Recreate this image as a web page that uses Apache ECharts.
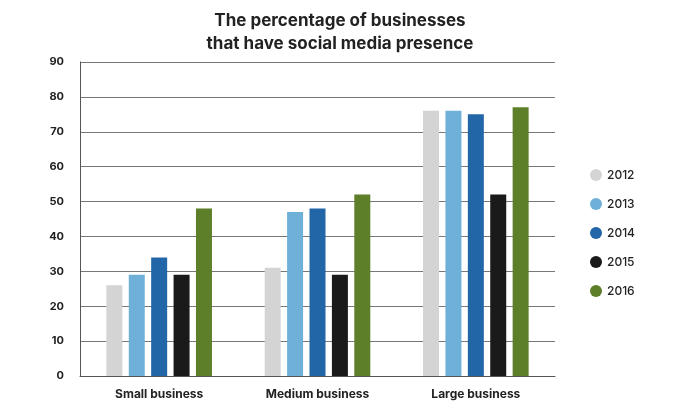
<!DOCTYPE html>
<html><head><meta charset="utf-8">
<script src="https://cdn.jsdelivr.net/npm/echarts@6/dist/echarts.min.js"></script>
<style>html,body{margin:0;padding:0;background:#fff}#c{width:700px;height:408px}</style>
</head><body><div id="c"></div>
<script>
const categories = ["Small business","Medium business","Large business"];
const years = ["2012","2013","2014","2015","2016"];
const v2012 = [26,31,76];
const v2013 = [29,47,76];
const v2014 = [34,48,75];
const v2015 = [29,29,52];
const v2016 = [48,52,77];
const colors = ["#d4d4d4","#6fb0d8","#2266a8","#1a1a1a","#5e7f2a"];
const vals = [v2012,v2013,v2014,v2015,v2016];
const chart = echarts.init(document.getElementById('c'));
chart.setOption({
  animation:false,
  title:{text:"The percentage of businesses\nthat have social media presence",left:335,top:4,textAlign:'center',
    textStyle:{fontFamily:'Inter',fontWeight:'bold',fontSize:17,lineHeight:23,color:'#222'}},
  legend:{orient:'vertical',left:585,top:164,itemGap:17,icon:'circle',itemWidth:12,itemHeight:12,
    textStyle:{fontFamily:'Inter',fontWeight:500,fontSize:12,color:'#222'},data:years},
  grid:{left:80,right:145,top:62,bottom:32},
  xAxis:{type:'category',data:categories,axisTick:{show:false},
    axisLine:{lineStyle:{color:'#555'}},
    axisLabel:{fontFamily:'Inter',fontWeight:'bold',fontSize:12,color:'#222',margin:12}},
  yAxis:{type:'value',min:0,max:90,interval:10,
    axisLine:{show:true,lineStyle:{color:'#555'}},
    splitLine:{lineStyle:{color:'#777'}},
    axisLabel:{fontFamily:'Inter',fontWeight:'bold',fontSize:11,color:'#222',margin:16}},
  series: years.map((y,i)=>({name:y,type:'bar',data:vals[i],barWidth:16,barGap:'40%',
    itemStyle:{color:colors[i]}}))
});
</script></body></html>
